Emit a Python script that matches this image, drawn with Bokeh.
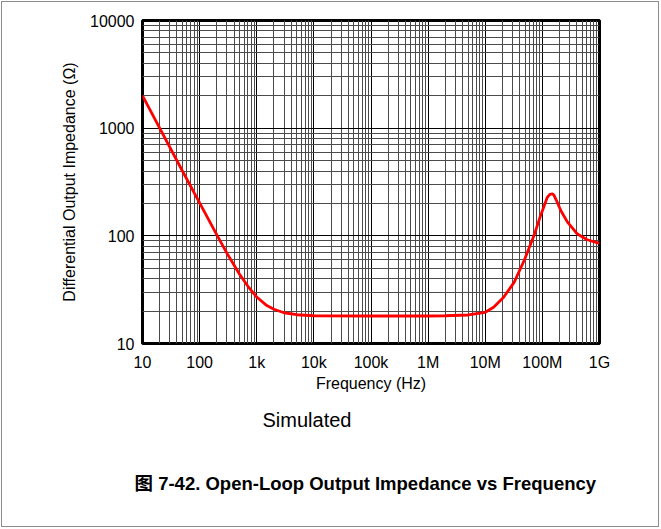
from bokeh.plotting import figure
from bokeh.models import FixedTicker, Title
from bokeh.embed import file_html
from bokeh.resources import INLINE

# ---- data ----
freq_hz = [10, 20, 50, 100, 200, 300, 500, 700, 1e3, 1.5e3, 2e3, 3e3, 5e3, 1e4,
           1e5, 1e6, 2e6, 5e6, 1e7, 1.4e7, 2.1e7, 3.2e7, 4.8e7, 7.1e7, 9.3e7,
           1.22e8, 1.35e8, 1.5e8, 1.6e8, 1.75e8, 2.1e8, 2.75e8, 4.1e8, 6.1e8, 1e9]
impedance_ohm = [2000, 1000, 400, 202, 102, 69, 44, 34, 27, 22.5, 20.8, 19.3, 18.5, 18.1,
                 18, 18, 18.1, 18.4, 19.5, 21.7, 26.9, 37, 59, 100, 154,
                 228, 243, 245, 238, 215, 172, 134, 104, 92, 85]

x_tick_values = [1e1, 1e2, 1e3, 1e4, 1e5, 1e6, 1e7, 1e8, 1e9]
x_tick_labels = ["10", "100", "1k", "10k", "100k", "1M", "10M", "100M", "1G"]
y_tick_values = [10, 100, 1000, 10000]
y_tick_labels = ["10", "100", "1000", "10000"]

x_label = "Frequency (Hz)"
y_label = "Differential Output Impedance (\u03a9)"
note_text = "Simulated"
caption_text = "\u56fe 7-42. Open-Loop Output Impedance vs Frequency"

FONT = "Liberation Sans"

W, H = 658, 526
p = figure(width=W, height=H, x_axis_type="log", y_axis_type="log",
           x_range=(10, 1e9), y_range=(10, 10000),
           output_backend="svg", toolbar_location=None,
           min_border_left=140, min_border_right=61,
           min_border_top=18, min_border_bottom=185)

p.styles = {"border": "1px solid #8c8c8c", "margin-left": "1px", "margin-top": "1px"}

def minor_list(majors):
    out = []
    for m in majors[:-1]:
        for k in range(2, 10):
            out.append(m * k)
    return out

p.xaxis.ticker = FixedTicker(ticks=x_tick_values, minor_ticks=minor_list(x_tick_values))
p.yaxis.ticker = FixedTicker(ticks=y_tick_values, minor_ticks=minor_list(y_tick_values))
p.xaxis.major_label_overrides = {int(v): s for v, s in zip(x_tick_values, x_tick_labels)}
p.yaxis.major_label_overrides = {int(v): s for v, s in zip(y_tick_values, y_tick_labels)}

for ax in (p.xaxis, p.yaxis):
    ax.axis_line_color = None
    ax.major_tick_line_color = None
    ax.minor_tick_line_color = None
    ax.major_tick_out = 0
    ax.minor_tick_out = 0
    ax.major_tick_in = 0
    ax.minor_tick_in = 0
    ax.major_label_text_font = FONT
    ax.major_label_text_font_size = "16px"
    ax.major_label_text_color = "#000000"
    ax.axis_label_text_font = FONT
    ax.axis_label_text_font_size = "16px"
    ax.axis_label_text_font_style = "normal"
    ax.axis_label_text_color = "#000000"

p.xaxis.axis_label = x_label
p.yaxis.axis_label = y_label
p.xaxis.major_label_standoff = 10
p.xaxis.axis_label_standoff = 1
p.yaxis.major_label_standoff = 8
p.yaxis.axis_label_standoff = 9

for g in (p.xgrid, p.ygrid):
    g.grid_line_color = "#000000"
    g.grid_line_width = 1
    g.grid_line_alpha = 1.0
    g.minor_grid_line_color = "#4a4a4a"
    g.minor_grid_line_width = 1
    g.minor_grid_line_alpha = 1.0

p.outline_line_color = "#000000"
p.outline_line_width = 3
p.outline_line_alpha = 1.0

p.line(freq_hz, impedance_ohm, line_color="#ff0000", line_width=2.8)

p.add_layout(Title(text=note_text, align="left", offset=120, standoff=25,
                   text_font=FONT, text_font_size="20px", text_font_style="normal",
                   text_color="#000000"), "below")
p.add_layout(Title(text=caption_text, align="left", offset=-8, standoff=55,
                   text_font=FONT + ", Noto Sans CJK SC", text_font_size="18.5px",
                   text_font_style="bold", text_color="#000000"), "below")

open("out.html", "w").write(file_html(p, INLINE))
